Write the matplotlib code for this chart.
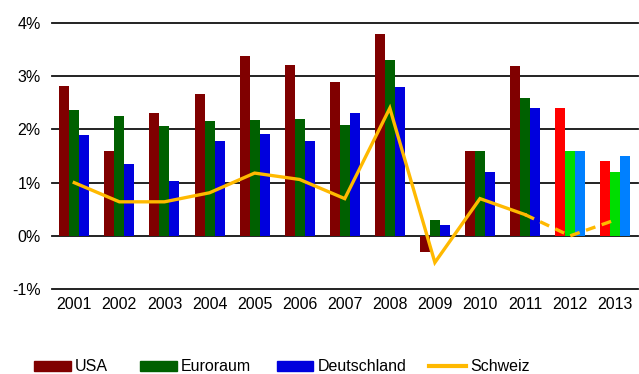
import matplotlib
matplotlib.use("Agg")
import matplotlib.pyplot as plt
import numpy as np
from matplotlib.patches import Patch
from matplotlib.lines import Line2D

plt.rcParams["font.family"] = ["Liberation Sans", "DejaVu Sans"]

years = ["2001", "2002", "2003", "2004", "2005", "2006", "2007",
         "2008", "2009", "2010", "2011", "2012", "2013"]
usa = [2.82, 1.60, 2.30, 2.67, 3.38, 3.22, 2.90, 3.80, -0.30, 1.60, 3.20, 2.40, 1.40]
euroraum = [2.37, 2.25, 2.07, 2.15, 2.18, 2.19, 2.09, 3.30, 0.30, 1.60, 2.60, 1.60, 1.20]
deutschland = [1.90, 1.35, 1.03, 1.79, 1.92, 1.78, 2.30, 2.80, 0.20, 1.20, 2.40, 1.60, 1.50]
schweiz = [1.00, 0.64, 0.64, 0.81, 1.18, 1.06, 0.70, 2.40, -0.50, 0.70, 0.40, 0.00, 0.30]
series_names = ["USA", "Euroraum", "Deutschland", "Schweiz"]
n_actual = 11  # 2012 and 2013 are forecasts

c_usa, c_eur, c_de, c_ch = "#800000", "#006000", "#0000dd", "#ffb900"
f_usa, f_eur, f_de = "#ff0000", "#00dd00", "#0080ff"

fig = plt.figure(figsize=(6.39, 3.74), dpi=100)
ax = fig.add_axes([0.081, 0.227, 0.917, 0.7115])

x = np.arange(len(years))
w = 0.222
cols_usa = [c_usa] * n_actual + [f_usa] * (len(years) - n_actual)
cols_eur = [c_eur] * n_actual + [f_eur] * (len(years) - n_actual)
cols_de = [c_de] * n_actual + [f_de] * (len(years) - n_actual)

for t in range(-1, 5):
    ax.axhline(t, color="#111111", lw=1.3, zorder=1, clip_on=False)

ax.bar(x - w, usa, w, color=cols_usa, zorder=2)
ax.bar(x, euroraum, w, color=cols_eur, zorder=2)
ax.bar(x + w, deutschland, w, color=cols_de, zorder=2)

ax.plot(x[:n_actual], schweiz[:n_actual], color=c_ch, lw=2.4, zorder=3,
        solid_joinstyle="miter")
ax.plot(x[n_actual - 1:], schweiz[n_actual - 1:], color=c_ch, lw=2.4,
        ls=(0, (3, 2)), zorder=3)

ax.set_xlim(-0.5, len(years) - 0.5)
ax.set_ylim(-1, 4)
ax.set_yticks(range(-1, 5))
ax.set_yticklabels([f"{t}%" for t in range(-1, 5)], fontsize=11.5)
ax.set_xticks(x)
ax.set_xticklabels(years, fontsize=11.5)
ax.tick_params(length=0, pad=6)
ax.tick_params(axis="y", pad=8)
for s in ax.spines.values():
    s.set_visible(False)

# one legend per entry, spaced along the bottom edge
handles = [Patch(color=c_usa), Patch(color=c_eur), Patch(color=c_de),
           Line2D([], [], color=c_ch, lw=3)]
legend_x = [0.053, 0.219, 0.433, 0.672]
for h, name, lx in zip(handles, series_names, legend_x):
    leg = fig.legend([h], [name], loc="center left", bbox_to_anchor=(lx, 0.019),
                     frameon=False, fontsize=11.5, borderpad=0, borderaxespad=0,
                     handlelength=2.3, handleheight=0.55, handletextpad=0.25)

fig.savefig("out.png", dpi=100)
